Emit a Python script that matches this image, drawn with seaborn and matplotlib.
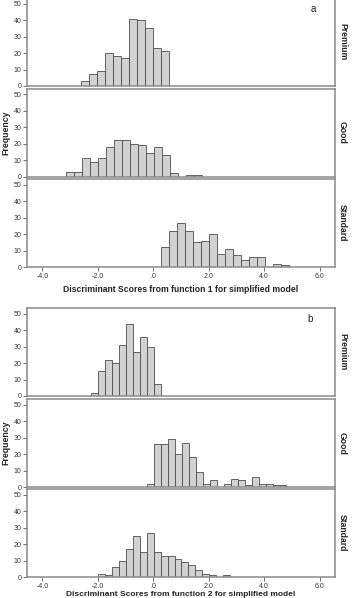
import numpy as np
import pandas as pd
import matplotlib
matplotlib.use('Agg')
import matplotlib.pyplot as plt
import seaborn as sns

# histogram counts (SPSS style output)
groups = ['Premium', 'Good', 'Standard']

# panel a: function 1
bin_width_a = 0.288
starts_a = [-2.59, -3.15, 0.275]
premium_a = [3, 7, 9, 20, 18, 17, 41, 40, 35, 23, 21]
good_a = [3, 3, 11, 9, 11, 18, 22, 22, 20, 19, 14, 18, 13, 2, 0, 1, 1]
standard_a = [12, 22, 27, 22, 15, 16, 20, 8, 11, 7, 4, 6, 6, 0, 2, 1]

# panel b: function 2
bin_width_b = 0.2515
starts_b = [-2.24, -0.228, -2.0]
premium_b = [2, 15, 22, 20, 31, 44, 27, 36, 30, 7]
good_b = [2, 26, 26, 29, 20, 27, 18, 9, 2, 4, 0, 2, 5, 4, 1, 6, 2, 2, 1, 1]
standard_b = [2, 1, 6, 10, 17, 25, 15, 27, 15, 13, 13, 11, 9, 7, 4, 2, 1, 0, 1]

xticks = [-4, -2, 0, 2, 4, 6]
xticklabels = ['-4.0', '-2.0', '.0', '2.0', '4.0', '6.0']
yticks = [0, 10, 20, 30, 40, 50]
xlabels = ['Discriminant Scores from function 1 for simplified model',
           'Discriminant Scores from function 2 for simplified model']

sns.set_style('white')
plt.rcParams['font.family'] = ['Liberation Sans', 'DejaVu Sans']

W, H = 358, 598
fig = plt.figure(figsize=(W / 100, H / 100), dpi=100)

left, right = 27, 335
bottoms = [[86, 176.5, 267], [396, 487, 577]]
ax_h = 88

panels = [
    (bin_width_a, starts_a, [premium_a, good_a, standard_a], 'a'),
    (bin_width_b, starts_b, [premium_b, good_b, standard_b], 'b'),
]

frame_col = '#8a8a8a'

for p, (bw, starts, counts_list, tag) in enumerate(panels):
    axes = []
    for g, (name, start, counts) in enumerate(zip(groups, starts, counts_list)):
        b = bottoms[p][g]
        ax = fig.add_axes([left / W, 1 - b / H, (right - left) / W, ax_h / H])
        n = len(counts)
        edges = start + bw * np.arange(n + 1)
        df = pd.DataFrame({'score': (edges[:-1] + edges[1:]) / 2, 'count': counts})
        sns.histplot(data=df, x='score', weights='count', bins=edges.tolist(), ax=ax,
                     color='#d2d2d2', edgecolor='#4d4d4d', linewidth=0.6, alpha=1)
        ax.set_xlim(-4.55, 6.55)
        ax.set_ylim(0, 53.5)
        ax.set_yticks(yticks)
        ax.set_yticklabels([str(v) for v in yticks])
        ax.set_ylabel('')
        ax.set_xlabel('')
        for s in ax.spines.values():
            s.set_color(frame_col)
            s.set_linewidth(1.1)
        ax.tick_params(axis='y', left=True, length=3, width=0.6, color='#555555',
                       labelsize=5, pad=1, labelcolor='#333333')
        if g == 2:
            ax.set_xticks(xticks)
            ax.set_xticklabels(xticklabels)
            ax.tick_params(axis='x', bottom=True, length=3, width=0.6, color='#555555',
                           labelsize=5, pad=1, labelcolor='#333333')
        else:
            ax.set_xticks([])
        ax.text(1.024, 0.5, name, rotation=270, transform=ax.transAxes,
                ha='center', va='center', fontsize=6.2, fontweight='bold', color='#222222')
        axes.append(ax)

    axes[0].text(0.93 if tag == 'a' else 0.92, 0.88, tag, transform=axes[0].transAxes,
                 ha='center', va='center', fontsize=7, color='#222222')
    mid = (bottoms[p][1] - ax_h / 2)
    fig.text(5.5 / W, 1 - mid / H, 'Frequency', rotation=90, ha='center', va='center',
             fontsize=6.3, fontweight='bold', color='#222222')
    if p == 0:
        fig.text(181 / W, 1 - 289 / H, xlabels[p], ha='center', va='center',
                 fontsize=6.2, fontweight='bold', color='#222222')
    else:
        fig.text(181 / W, 1 - 597.5 / H, xlabels[p], ha='center', va='bottom',
                 fontsize=6.0, fontweight='bold', color='#222222')

plt.savefig('out.png', dpi=100)
